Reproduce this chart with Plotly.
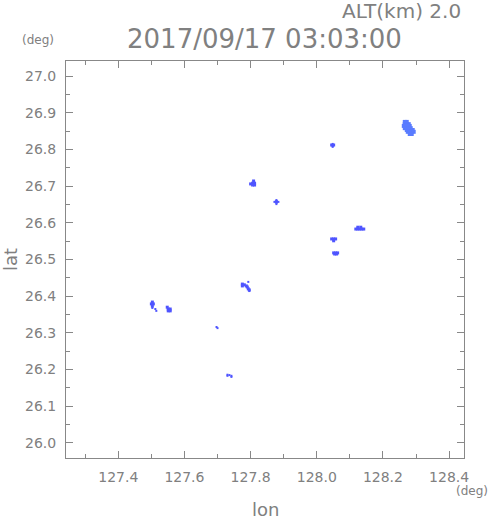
import plotly.graph_objects as go

# Echo cells (lon, lat)
big_lon = [128.266, 128.272, 128.266, 128.272, 128.278, 128.263, 128.269, 128.275, 128.281,
           128.266, 128.272, 128.278, 128.284, 128.272, 128.278, 128.284, 128.290,
           128.275, 128.281, 128.287, 128.293, 128.281, 128.287]
big_lat = [26.875, 26.875, 26.869, 26.869, 26.869, 26.864, 26.864, 26.864, 26.864,
           26.858, 26.858, 26.858, 26.858, 26.853, 26.853, 26.853, 26.853,
           26.848, 26.848, 26.848, 26.848, 26.842, 26.842]

cell_lon = [128.045, 128.051,
            127.809, 127.806, 127.812, 127.800, 127.806, 127.812,
            127.878, 127.878,
            128.118, 128.124, 128.124, 128.133, 128.130, 128.136, 128.142,
            128.045, 128.051, 128.057, 128.051,
            128.051, 128.057, 128.063, 128.054, 128.060,
            127.775, 127.775, 127.781, 127.787, 127.790, 127.793, 127.796,
            127.503, 127.500, 127.506, 127.503,
            127.548, 127.551, 127.557, 127.551, 127.557]
cell_lat = [26.812, 26.812,
            26.714, 26.708, 26.708, 26.706, 26.703, 26.703,
            26.657, 26.657,
            26.583, 26.583, 26.588, 26.588, 26.583, 26.583, 26.583,
            26.556, 26.556, 26.556, 26.551,
            26.518, 26.518, 26.518, 26.515, 26.515,
            26.433, 26.428, 26.431, 26.428, 26.425, 26.420, 26.417,
            26.384, 26.379, 26.379, 26.373,
            26.370, 26.365, 26.365, 26.360, 26.360]

dot_lon = [128.048, 128.048, 128.048, 127.872, 127.884, 127.878, 127.878,
           127.796, 127.793, 127.503, 127.512, 127.515,
           127.697, 127.700, 127.730, 127.730, 127.736, 127.742, 127.742]
dot_lat = [26.815, 26.809, 26.807, 26.657, 26.657, 26.662, 26.651,
           26.414, 26.439, 26.368, 26.365, 26.360,
           26.316, 26.313, 26.186, 26.183, 26.185, 26.183, 26.180]

x_ticks = [127.4, 127.6, 127.8, 128.0, 128.2, 128.4]
y_ticks = [26.0, 26.1, 26.2, 26.3, 26.4, 26.5, 26.6, 26.7, 26.8, 26.9, 27.0]

grey = "#808080"
font = "DejaVu Sans"

fig = go.Figure()
fig.add_trace(go.Scatter(x=big_lon, y=big_lat, mode="markers",
                         marker=dict(symbol="square", size=4, color="#5a7cff", line=dict(width=0)),
                         hoverinfo="skip"))
fig.add_trace(go.Scatter(x=cell_lon, y=cell_lat, mode="markers",
                         marker=dict(symbol="square", size=3, color="#4f55ff", line=dict(width=0)),
                         hoverinfo="skip"))
fig.add_trace(go.Scatter(x=dot_lon, y=dot_lat, mode="markers",
                         marker=dict(symbol="square", size=2, color="#4f55ff", line=dict(width=0)),
                         hoverinfo="skip"))

axis_common = dict(showgrid=False, zeroline=False, showline=True, linecolor="#888888",
                   linewidth=1, mirror="ticks", ticks="inside", tickcolor="#888888",
                   ticklen=7, tickwidth=1, tickfont=dict(family=font, size=14, color=grey),
                   ticklabelstandoff=6, automargin=False)

fig.update_xaxes(range=[127.242, 128.445], tickvals=x_ticks,
                 ticktext=[f"{v:.1f}" for v in x_ticks],
                 minor=dict(dtick=0.1, tick0=127.3, ticks="inside", ticklen=4,
                            tickcolor="#888888", showgrid=False),
                 **axis_common)
fig.update_yaxes(range=[25.959, 27.041], tickvals=y_ticks,
                 ticktext=[f"{v:.1f}" for v in y_ticks],
                 minor=dict(dtick=0.05, tick0=25.95, ticks="inside", ticklen=4,
                            tickcolor="#888888", showgrid=False),
                 **axis_common)

W, H = 491, 521
L, R, T, B = 66, 27, 61, 63
pw, ph = W - L - R, H - T - B

annos = [
    dict(text="ALT(km) 2.0", x=463, y=11, xanchor="right", size=20),
    dict(text="2017/09/17 03:03:00", x=264, y=39, xanchor="center", size=26),
    dict(text="(deg)", x=38, y=40, xanchor="center", size=12),
    dict(text="(deg)", x=490, y=491, xanchor="right", size=12),
    dict(text="lon", x=265, y=509, xanchor="center", size=18),
]
for a in annos:
    fig.add_annotation(text=a["text"], xref="paper", yref="paper",
                       x=(a["x"] - L) / pw, y=1 - (a["y"] - T) / ph, showarrow=False,
                       xanchor=a["xanchor"], yanchor="middle",
                       font=dict(family=font, size=a["size"], color=grey))

fig.add_annotation(text="lat", xref="paper", yref="paper",
                   x=(10 - L) / pw, y=1 - (260 - T) / ph, showarrow=False,
                   textangle=-90, xanchor="center", yanchor="middle",
                   font=dict(family=font, size=18, color=grey))

fig.update_layout(width=W, height=H, margin=dict(l=L, r=R, t=T, b=B, autoexpand=False),
                  paper_bgcolor="white", plot_bgcolor="white", showlegend=False)

fig.write_html("out.html", config={"displayModeBar": False},
               post_script="document.body.style.margin='0';document.body.style.padding='0';")
